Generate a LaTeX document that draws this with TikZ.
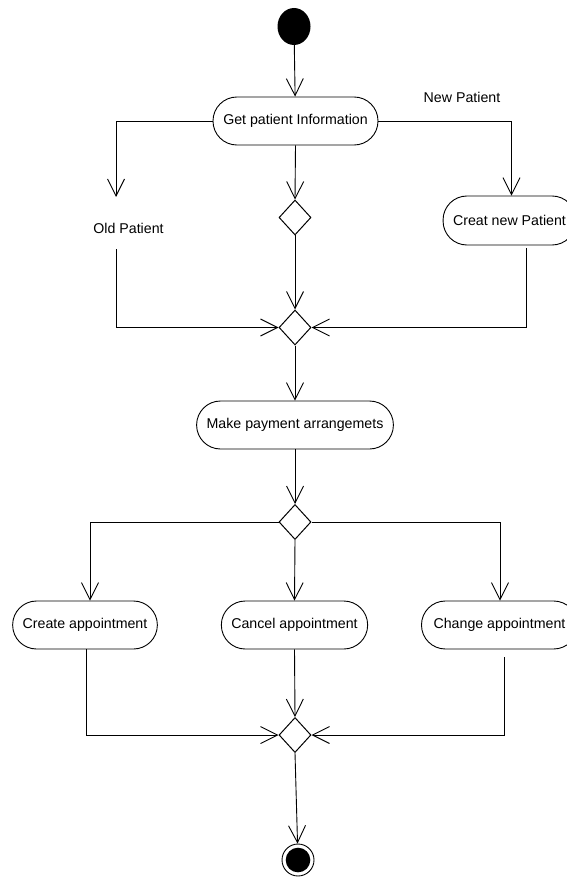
\documentclass[tikz,border=0pt]{standalone}
\usepackage{fontspec}
\setmainfont{Liberation Sans}
\usetikzlibrary{arrows.meta,shapes.geometric}

\tikzset{
  flow/.style={draw=black, line width=0.9pt, -{Straight Barb[length=17pt,width=17pt,line width=0.9pt]}},
  activity/.style={draw=black, line width=0.9pt, rectangle, rounded corners=23.9pt,
    minimum height=48pt, inner xsep=10pt, inner ysep=0pt, fill=white,
    font=\fontsize{14.2}{17}\selectfont},
  decision/.style={draw=black, line width=1pt, diamond, minimum width=32pt,
    minimum height=35pt, inner sep=0pt, fill=white},
  guard/.style={inner sep=0pt, font=\fontsize{14.2}{17}\selectfont},
}

\begin{document}
\begin{tikzpicture}[x=1pt, y=-1pt]
  \useasboundingbox (0,0) rectangle (566,877);

  % start and end states
  \node[ellipse, fill=black, minimum width=33pt, minimum height=37pt, inner sep=0pt] (start) at (294,26.5) {};
  \node[circle, draw=black, line width=0.9pt, minimum size=32pt, inner sep=0pt] (stop) at (298,860) {};
  \fill[black] (stop.center) circle (12.3pt);

  % activities
  \node[activity, minimum width=165pt] (info) at (295.5,121) {Get patient Information};
  \node[activity, minimum width=131pt, minimum height=49pt] (newp) at (509.5,220.5) {Creat new Patient};
  \node[activity, minimum width=196pt] (pay) at (295,425) {Make payment arrangemets};
  \node[activity, minimum width=144pt] (create) at (85,625) {Create appointment};
  \node[activity, minimum width=145pt] (cancel) at (294.5,625) {Cancel appointment};
  \node[activity, minimum width=156pt] (change) at (499.5,625) {Change appointment};

  % decisions and merges
  \node[decision] (d1) at (295,217.5) {};
  \node[decision] (d2) at (295,327.5) {};
  \node[decision] (d3) at (295,522) {};
  \node[decision] (d4) at (295,735) {};

  % guard labels
  \node[guard] (oldlbl) at (128.5,228) {Old Patient};
  \node[guard] (newlbl) at (462,97) {New Patient};

  % free ends of the branch lines
  \coordinate (oldin) at (116,197);
  \coordinate (oldout) at (116,249);
  \coordinate (newout) at (526,248);
  \coordinate (chgout) at (504,657);

  % connectors
  \draw[flow] (start) -- (info);
  \draw[flow] (info.west) -| (oldin);
  \draw[flow] (oldout) |- (d2.west);
  \draw[flow] (info.south) -- (d1.north);
  \draw[flow] (d1.south) -- (d2.north);
  \draw[flow] (info.east) -| ([xshift=2pt]newp.north);
  \draw[flow] (newout) |- (d2.east);
  \draw[flow] (d2.south) -- (pay.north);
  \draw[flow] (pay.south) -- (d3.north);
  \draw[flow] (d3.west) -| ([xshift=5pt]create.north);
  \draw[flow] (d3.south) -- (cancel.north);
  \draw[flow] (d3.east) -| ([xshift=0.5pt]change.north);
  \draw[flow] ([xshift=1pt]create.south) |- (d4.west);
  \draw[flow] (cancel.south) -- (d4.north);
  \draw[flow] (chgout) |- (d4.east);
  \draw[flow] (d4.south) -- (stop);
\end{tikzpicture}
\end{document}
